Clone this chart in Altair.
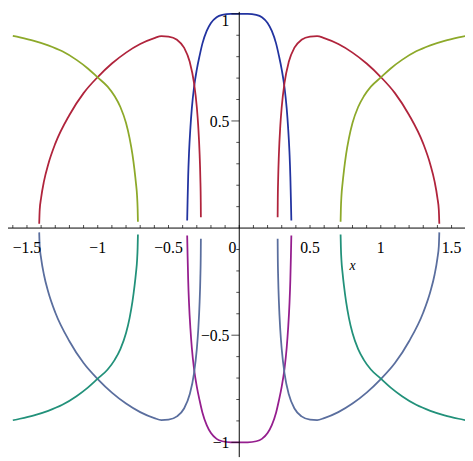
import altair as alt
import pandas as pd

# ---- values (upper-right quadrant; figure is symmetric) ----
blue_x = [0, 0.06, 0.12, 0.16, 0.20, 0.23, 0.26, 0.28, 0.30, 0.32, 0.335, 0.345, 0.355, 0.361, 0.365, 0.368]
blue_y = [1.0, 1.0, 0.995, 0.984, 0.957, 0.92, 0.862, 0.805, 0.74, 0.655, 0.56, 0.47, 0.35, 0.24, 0.13, 0.035]

red_x = [0.2712, 0.272, 0.275, 0.28, 0.29, 0.30, 0.32, 0.35, 0.39, 0.44, 0.50, 0.55, 0.60, 0.70,
         0.80, 0.90, 1.0, 1.1, 1.2, 1.3, 1.35, 1.38, 1.40, 1.41, 1.4135]
red_y = [0.05, 0.12, 0.234, 0.343, 0.477, 0.565, 0.679, 0.776, 0.842, 0.879, 0.894, 0.896, 0.887, 0.859,
         0.819, 0.768, 0.705, 0.63, 0.528, 0.394, 0.297, 0.218, 0.141, 0.085, 0.02]

green_x = [0.716, 0.718, 0.722, 0.73, 0.74, 0.755, 0.775, 0.80, 0.84, 0.88, 0.93, 1.0, 1.07, 1.15,
           1.25, 1.35, 1.45, 1.55, 1.6]
green_y = [0.03, 0.09, 0.15, 0.21, 0.27, 0.345, 0.42, 0.49, 0.565, 0.615, 0.66, 0.703, 0.745, 0.785,
           0.825, 0.853, 0.874, 0.89, 0.897]

series_names = ["red", "green", "blue", "steel", "teal", "purple"]
series_colors = ["#B0243C", "#8DA92A", "#2233A0", "#5A6E9E", "#22917A", "#951E8E"]

x_tick_vals = [round(-1.6 + 0.1 * i, 1) for i in range(32)]
y_minor_vals = [-0.9, -0.8, -0.7, -0.6, -0.4, -0.3, -0.2, -0.1, 0.1, 0.2, 0.3, 0.4, 0.6, 0.7, 0.8, 0.9]
y_major_vals = [-1.0, -0.5, 0.5, 1.0]
x_label_vals = [-1.5, -1, -0.5, 0.5, 1, 1.5]
x_label_txt = ["\u22121.5", "\u22121", "\u22120.5", "0.5", "1", "1.5"]
y_label_vals = [-1.0, -0.5, 0.5]
y_label_txt = ["\u22121", "\u22120.5", "0.5"]

# ---- build the pieces (mirror the quadrant readings) ----
rows = []
def add(piece, series, xs, ys):
    for a, b in zip(xs, ys):
        rows.append({"piece": piece, "series": series, "x": a, "y": b})

bx = [-v for v in blue_x[::-1]] + blue_x[1:]
by = blue_y[::-1] + blue_y[1:]
add("blue", "blue", bx, by)
add("purple", "purple", bx, [-v for v in by])
for sgn, tag in [(1, "R"), (-1, "L")]:
    add("red" + tag, "red", [sgn * v for v in red_x], red_y)
    add("green" + tag, "green", [sgn * v for v in green_x], green_y)
    add("steel" + tag, "steel", [sgn * v for v in red_x], [-v for v in red_y])
    add("teal" + tag, "teal", [sgn * v for v in green_x], [-v for v in green_y])
df = pd.DataFrame(rows)

xs = alt.Scale(domain=[-1.634, 1.595], nice=False, zero=False)
ys = alt.Scale(domain=[-1.069, 1.009], nice=False, zero=False)

curves = alt.Chart(df).mark_line(strokeWidth=1.8, clip=True, interpolate="monotone").encode(
    x=alt.X("x:Q", scale=xs, axis=None),
    y=alt.Y("y:Q", scale=ys, axis=None),
    detail="piece:N",
    order="x:Q",
    color=alt.Color("series:N", scale=alt.Scale(domain=series_names, range=series_colors), legend=None),
)

xaxis = alt.Chart(pd.DataFrame({"a": [-1.634], "b": [1.595]})).mark_rule(color="black", strokeWidth=1).encode(
    x=alt.X("a:Q", scale=xs), x2="b:Q", y=alt.datum(0, scale=ys)
)
yaxis = alt.Chart(pd.DataFrame({"a": [-1.069], "b": [1.009]})).mark_rule(color="black", strokeWidth=1).encode(
    y=alt.Y("a:Q", scale=ys), y2="b:Q", x=alt.datum(0, scale=xs)
)

xticks = alt.Chart(pd.DataFrame({"t": x_tick_vals})).mark_tick(
    orient="vertical", size=3, thickness=1, color="black", yOffset=-1.5
).encode(x=alt.X("t:Q", scale=xs), y=alt.datum(0, scale=ys))

yminor = alt.Chart(pd.DataFrame({"t": y_minor_vals})).mark_tick(
    orient="horizontal", size=3, thickness=1, color="black", xOffset=-1.5
).encode(y=alt.Y("t:Q", scale=ys), x=alt.datum(0, scale=xs))

ymajor = alt.Chart(pd.DataFrame({"t": y_major_vals})).mark_tick(
    orient="horizontal", size=8, thickness=1, color="black", xOffset=-4
).encode(y=alt.Y("t:Q", scale=ys), x=alt.datum(0, scale=xs))

font = "Liberation Serif"
xlabels = alt.Chart(pd.DataFrame({"v": x_label_vals, "s": x_label_txt})).mark_text(
    font=font, fontSize=16, dy=20, baseline="middle", align="center", color="black"
).encode(x=alt.X("v:Q", scale=xs), y=alt.datum(0, scale=ys), text="s:N")

zero_label = alt.Chart(pd.DataFrame({"v": [0], "s": ["0"]})).mark_text(
    font=font, fontSize=16, dy=20, dx=-7, baseline="middle", align="center", color="black"
).encode(x=alt.X("v:Q", scale=xs), y=alt.datum(0, scale=ys), text="s:N")

ylabels = alt.Chart(pd.DataFrame({"v": y_label_vals, "s": y_label_txt})).mark_text(
    font=font, fontSize=16, dx=-10, dy=1, baseline="middle", align="right", color="black"
).encode(y=alt.Y("v:Q", scale=ys), x=alt.datum(0, scale=xs), text="s:N")

top_label = alt.Chart(pd.DataFrame({"v": [1.0], "s": ["1"]})).mark_text(
    font=font, fontSize=16, dx=-10, dy=-1, baseline="top", align="right", color="black"
).encode(y=alt.Y("v:Q", scale=ys), x=alt.datum(0, scale=xs), text="s:N")

xtitle = alt.Chart(pd.DataFrame({"v": [0.8], "s": ["x"]})).mark_text(
    font=font, fontSize=14, fontStyle="italic", dy=39, baseline="middle", align="center", color="black"
).encode(x=alt.X("v:Q", scale=xs), y=alt.datum(0, scale=ys), text="s:N")

chart = alt.layer(
    curves, xaxis, yaxis, xticks, yminor, ymajor, xlabels, zero_label, ylabels, top_label, xtitle
).properties(
    width=465, height=453, padding=0, autosize="none", background="white"
).configure_view(stroke=None)

chart.save("out.html", embed_options={"renderer": "svg", "actions": False})
